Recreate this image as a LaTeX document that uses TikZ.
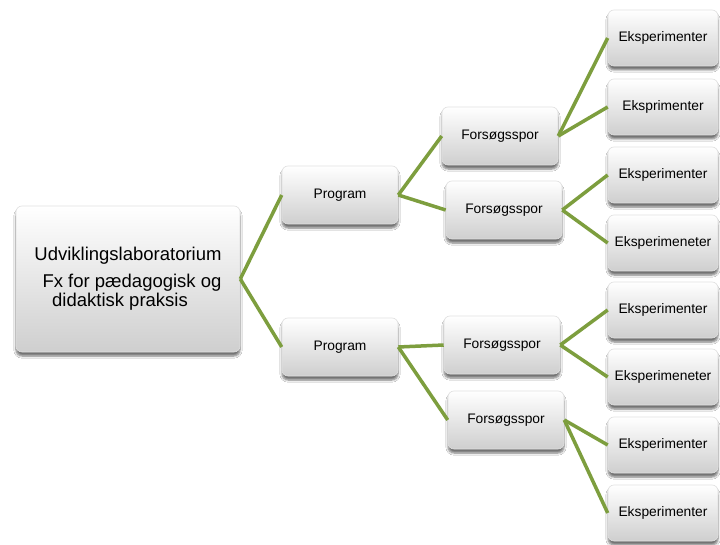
\documentclass[tikz,border=0pt]{standalone}
\usepackage{fontspec}
\setmainfont{Liberation Sans}
\usetikzlibrary{shadows.blur}
\definecolor{linegreen}{RGB}{125,158,62}
\begin{document}
\begin{tikzpicture}[x=1pt,y=-1pt,
  box/.style={rounded corners=6pt, top color=white, bottom color=black!19,
    draw=black!12, line width=0.6pt,
    blur shadow={shadow xshift=0pt, shadow yshift=-4pt, shadow blur steps=6,
      shadow blur extra rounding=2pt, shadow opacity=55},
    inner sep=0pt, align=center, font=\fontsize{13.8}{16}\selectfont},
  pbox/.style={box, minimum width=116pt, minimum height=58pt},
  ebox/.style={box, minimum width=110pt, minimum height=56pt},
  link/.style={draw=linegreen, line width=3.5pt}]
\useasboundingbox[fill=white] (0,0) rectangle (720,545);

\node[box, minimum width=224pt, minimum height=146pt, font=\fontsize{18.5}{21}\selectfont] (root) at (128,279)
  {Udviklingslaboratorium\\[6pt]\hspace*{8pt}Fx for pædagogisk og\\[-2pt]didaktisk praksis\hspace*{16pt}};

\node[pbox] (p1) at (340,195) {Program};
\node[pbox] (p2) at (340,347) {Program};

\node[pbox] (f1) at (500,136) {Forsøgsspor};
\node[pbox] (f2) at (504,210) {Forsøgsspor};
\node[pbox] (f3) at (502,345) {Forsøgsspor};
\node[pbox] (f4) at (506,420) {Forsøgsspor};

\node[ebox] (e1) at (663,38) {Eksperimenter};
\node[ebox] (e2) at (663,107) {Eksprimenter};
\node[ebox] (e3) at (663,175) {Eksperimenter};
\node[ebox] (e4) at (663,243) {Eksperimeneter};
\node[ebox] (e5) at (663,310) {Eksperimenter};
\node[ebox] (e6) at (663,377) {Eksperimeneter};
\node[ebox] (e7) at (663,445) {Eksperimenter};
\node[ebox] (e8) at (663,513) {Eksperimenter};

\draw[link] (root.east) -- (p1.west);
\draw[link] (root.east) -- (p2.west);
\draw[link] (p1.east) -- (f1.west);
\draw[link] (p1.east) -- (f2.west);
\draw[link] (p2.east) -- (f3.west);
\draw[link] (p2.east) -- (f4.west);
\draw[link] (f1.east) -- (e1.west);
\draw[link] (f1.east) -- (e2.west);
\draw[link] (f2.east) -- (e3.west);
\draw[link] (f2.east) -- (e4.west);
\draw[link] (f3.east) -- (e5.west);
\draw[link] (f3.east) -- (e6.west);
\draw[link] (f4.east) -- (e7.west);
\draw[link] (f4.east) -- (e8.west);
\end{tikzpicture}
\end{document}
